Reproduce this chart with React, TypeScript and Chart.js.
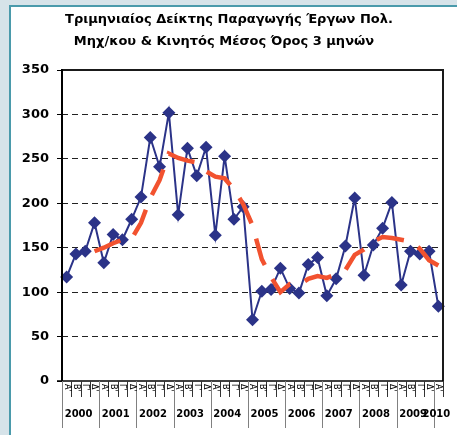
import React, { useEffect, useRef } from "react";
import { Chart, registerables } from "chart.js";

Chart.register(...registerables);

const titleLines = [
  "Τριμηνιαίος Δείκτης Παραγωγής Έργων Πολ.",
  "Μηχ/κου & Κινητός Μέσος Όρος 3 μηνών",
];
const years = ["2000", "2001", "2002", "2003", "2004", "2005", "2006", "2007", "2008", "2009", "2010"];
const quarters = ["Α'", "Β'", "Γ'", "Δ'"];
const indexValues = [
  117, 143, 146, 178, 133, 165, 159, 182, 207, 274, 241, 302, 187, 262, 231, 263,
  164, 253, 182, 196, 69, 101, 103, 127, 104, 99, 131, 139, 96, 115, 152, 206,
  119, 153, 172, 201, 108, 146, 143, 146, 84,
];
const movingAverage = [
  null, null, null, 146, 150, 155, 159, 160, 178, 206, 226, 256, 251, 248, 246, 236,
  230, 228, 216, 199, 175, 137, 117, 100, 109, 108, 115, 118, 116, 120, 125, 142,
  148, 157, 162, 161, 159, 157, 149, 136, 130,
];
const yMin = 0;
const yMax = 350;
const yStep = 50;

const categories = indexValues.map((_, i) => quarters[i % 4] + " " + years[Math.floor(i / 4)]);

const BLUE = "#2b3388";
const RED = "#f2522f";

const decorPlugin = {
  id: "decor",
  afterDraw(chart: any) {
    const { ctx, chartArea } = chart;
    const xs = chart.scales.x;
    const { left, right, top, bottom } = chartArea;
    const n = indexValues.length;
    const step = (right - left) / n;
    ctx.save();
    // frame
    ctx.strokeStyle = "#1a1a1a";
    ctx.lineWidth = 2;
    ctx.beginPath();
    ctx.moveTo(left, top);
    ctx.lineTo(right, top);
    ctx.lineTo(right, bottom);
    ctx.stroke();
    ctx.strokeStyle = "#000";
    ctx.beginPath();
    ctx.moveTo(left, top - 1);
    ctx.lineTo(left, bottom);
    ctx.stroke();
    ctx.lineWidth = 1.5;
    ctx.beginPath();
    ctx.moveTo(left - 5, bottom);
    ctx.lineTo(right, bottom);
    ctx.stroke();

    // quarter dividers + year dividers
    for (let i = 0; i <= n; i++) {
      const xb = Math.round(left + i * step) + 0.5;
      const isYear = i % 4 === 0;
      ctx.strokeStyle = isYear ? "#808080" : "#333";
      ctx.lineWidth = 1;
      ctx.beginPath();
      ctx.moveTo(xb, bottom);
      ctx.lineTo(xb, isYear && i < n ? bottom + 47 : bottom + 16);
      ctx.stroke();
    }
    // quarter labels rotated
    ctx.fillStyle = "#000";
    ctx.font = "8px 'DejaVu Sans'";
    ctx.textAlign = "left";
    ctx.textBaseline = "middle";
    for (let i = 0; i < n; i++) {
      const x = xs.getPixelForValue(i);
      ctx.save();
      ctx.translate(x, bottom + 3);
      ctx.rotate(Math.PI / 2);
      ctx.fillText(quarters[i % 4], 0, 0);
      ctx.restore();
    }
    // year labels
    ctx.font = "bold 10px 'DejaVu Sans'";
    ctx.textAlign = "center";
    ctx.textBaseline = "middle";
    for (let y = 0; y < years.length; y++) {
      const first = y * 4;
      const last = Math.min(first + 3, n - 1);
      if (first > n - 1) break;
      const cx = (xs.getPixelForValue(first) + xs.getPixelForValue(last)) / 2;
      ctx.fillText(years[y], cx - 2, bottom + 33);
    }
    // title
    ctx.font = "bold 13px 'DejaVu Sans'";
    ctx.fillText(titleLines[0], 229, 20);
    ctx.fillText(titleLines[1], 224, 42);
    ctx.restore();
  },
};

export default function App() {
  const ref = useRef<HTMLCanvasElement | null>(null);
  useEffect(() => {
    document.body.style.margin = "0";
    const chart = new Chart(ref.current as HTMLCanvasElement, {
      type: "line",
      data: {
        labels: categories,
        datasets: [
          {
            label: "Κινητός Μέσος Όρος",
            data: movingAverage,
            borderColor: RED,
            borderWidth: 4.5,
            borderDash: [28, 16],
            borderCapStyle: "butt",
            pointRadius: 0,
            tension: 0,
            spanGaps: false,
          },
          {
            label: "Δείκτης",
            data: indexValues,
            borderColor: BLUE,
            borderWidth: 2,
            backgroundColor: BLUE,
            pointStyle: "rectRot",
            pointRadius: 6.5,
            pointBorderWidth: 0,
            pointBackgroundColor: BLUE,
            tension: 0,
          },
        ],
      },
      options: {
        animation: false,
        responsive: false,
        layout: { padding: { left: 0, right: 14, top: 70, bottom: 0 } },
        plugins: { legend: { display: false }, tooltip: { enabled: false }, title: { display: false } },
        scales: {
          x: {
            type: "category",
            offset: true,
            grid: { display: false },
            border: { display: false },
            ticks: { display: false },
            afterFit: (s: any) => {
              s.height = 54;
            },
          },
          y: {
            min: yMin,
            max: yMax,
            border: { display: false, dash: [6, 4] },
            ticks: {
              stepSize: yStep,
              padding: 8,
              color: "#000",
              font: { family: "'DejaVu Sans'", size: 13, weight: "bold" },
            },
            grid: {
              color: (c: any) => (c.tick && (c.tick.value === yMin || c.tick.value === yMax) ? "rgba(0,0,0,0)" : "#222"),
              lineWidth: 1,
              tickLength: 5,
              tickColor: "#000",
              tickBorderDash: [],
              tickWidth: 1,
            },
            afterFit: (s: any) => {
              s.width = 62;
            },
          },
        },
      },
      plugins: [decorPlugin],
    } as any);
    return () => chart.destroy();
  }, []);
  return (
    <div style={{ position: "absolute", left: 0, top: 0, width: 457, height: 435, background: "#d6e3e9", overflow: "hidden" }}>
      <div
        style={{
          position: "absolute",
          left: 9,
          top: 5,
          right: 0,
          bottom: 0,
          background: "#fff",
          borderLeft: "2px solid #4a9aab",
          borderTop: "2px solid #4a9aab",
        }}
      />
      <canvas ref={ref} width={457} height={435} style={{ position: "absolute", left: 0, top: 0 }} />
    </div>
  );
}
